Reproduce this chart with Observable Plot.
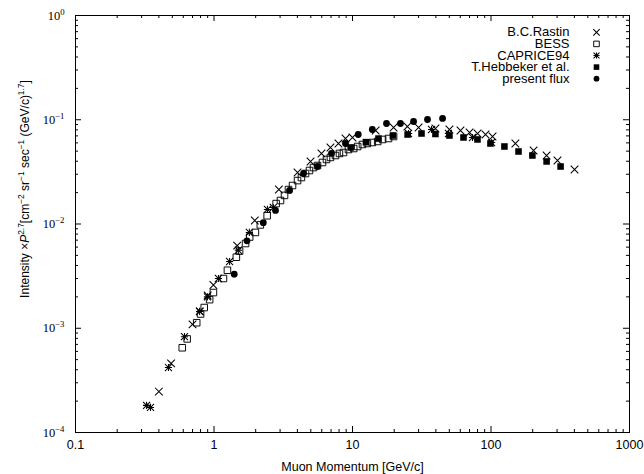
<!DOCTYPE html>
<html><head><meta charset="utf-8">
<script src="https://cdn.jsdelivr.net/npm/d3@7"></script>
<script src="https://cdn.jsdelivr.net/npm/@observablehq/plot@0.6"></script>
<style>body{margin:0;background:#fff;} svg{display:block}</style>
</head><body><div id="chart"></div>
<script>
// ---- data ----
const rastinP = [0.40,0.49,0.70,0.79,0.90,0.99,1.47,1.97,2.94,4.01,4.98,5.97,6.93,7.92,8.90,10.0,14.7,19.8,24.9,30.0,39.7,50.1,60.2,70.0,80.0,91.3,102.6,150,203,252,302,401];
const rastinI = [2.47e-4,4.6e-4,1.09e-3,1.45e-3,2.06e-3,2.6e-3,6.2e-3,1.08e-2,2.14e-2,3.12e-2,3.98e-2,4.75e-2,5.42e-2,5.92e-2,6.61e-2,6.76e-2,7.88e-2,8.43e-2,8.61e-2,8.43e-2,8.24e-2,8.06e-2,7.88e-2,7.54e-2,7.38e-2,7.22e-2,6.91e-2,5.92e-2,5.07e-2,4.54e-2,4.07e-2,3.33e-2];

const bessP = [0.59,0.64,0.75,0.80,0.85,0.93,0.99,1.17,1.25,1.45,1.53,1.69,1.81,1.99,2.16,2.42,2.81,3.02,3.23,3.45,3.69,4.01,4.28,4.58,4.89,5.23,5.59,6.07,6.49,6.93,7.54,8.05,8.61,9.35,10.2,10.9,11.8,12.8,13.9,15.2,16.5,18.2,19.8];
const bessI = [6.5e-4,7.9e-4,1.13e-3,1.37e-3,1.58e-3,1.88e-3,2.2e-3,3.0e-3,3.6e-3,4.8e-3,5.5e-3,6.5e-3,7.5e-3,8.3e-3,9.8e-3,1.2e-2,1.57e-2,1.68e-2,1.88e-2,2.14e-2,2.34e-2,2.61e-2,2.79e-2,3.05e-2,3.26e-2,3.48e-2,3.64e-2,3.89e-2,4.16e-2,4.35e-2,4.54e-2,4.75e-2,4.85e-2,5.18e-2,5.30e-2,5.54e-2,5.79e-2,5.92e-2,6.05e-2,6.19e-2,6.47e-2,6.61e-2,6.91e-2];

const capriceP = [0.326,0.348,0.469,0.612,0.787,0.897,1.076,1.296,1.50,1.80,2.43,2.68,25.4,37.2,49.3,73.5,101];
const capriceI = [1.82e-4,1.74e-4,4.2e-4,8.3e-4,1.45e-3,2.0e-3,3.0e-3,4.37e-3,5.6e-3,8.3e-3,1.38e-2,1.44e-2,7.38e-2,8.06e-2,7.38e-2,6.76e-2,6.05e-2];

const hebbekerP = [9.7,12.5,15.4,19.6,25.0,31.5,39.7,50.1,63.3,79.9,99.1,125,158,199,252,318];
const hebbekerI = [5.42e-2,6.1e-2,6.6e-2,7.06e-2,7.22e-2,7.38e-2,7.3e-2,7.06e-2,6.76e-2,6.47e-2,5.92e-2,5.54e-2,4.96e-2,4.54e-2,3.98e-2,3.56e-2];

const presentP = [1.40,1.73,2.27,2.78,3.51,4.43,5.59,7.05,8.90,11.0,13.9,17.6,22.2,27.6,34.8,44.7];
const presentI = [3.3e-3,6.9e-3,1.03e-2,1.35e-2,2.10e-2,3.05e-2,3.56e-2,4.75e-2,5.92e-2,7.22e-2,8.06e-2,9.21e-2,9.21e-2,9.62e-2,1.005e-1,1.03e-1];

const xMajor = [0.1, 1, 10, 100, 1000];
const xTickLabels = ["0.1", "1", "10", "100", "1000"];
const yMajor = [1e-4, 1e-3, 1e-2, 1e-1, 1];
const yExponents = ["−4", "−3", "−2", "−1", "0"];
const legendNames = ["B.C.Rastin", "BESS", "CAPRICE94", "T.Hebbeker et al.", "present flux"];
const xTitle = "Muon Momentum [GeV/c]";
const yTitle = "Intensity ×*P*^{2.7}[cm^{−2} sr^{−1} sec^{−1} (GeV/c)^{1.7}]";

// ---- build ----
const rows = (P, I) => P.map((p, i) => ({p, v: I[i]}));
const rastin = rows(rastinP, rastinI);
const bess = rows(bessP, bessI);
const caprice = rows(capriceP, capriceI);
const hebbeker = rows(hebbekerP, hebbekerI);
const present = rows(presentP, presentI);

const minorOf = (majors) => majors.slice(0, -1).flatMap(d => [2,3,4,5,6,7,8,9].map(k => d * k));
const xMinor = minorOf(xMajor);
const yMinor = minorOf(yMajor);

const W = 644, H = 474, mL = 75, mR = 15, mT = 15, mB = 42;
const pw = W - mL - mR, ph = H - mT - mB;
const big = 6, small = 3;

const sym = {
  rastin: {symbol: "times", r: 3.55, stroke: "black", strokeWidth: 1.05},
  bess: {symbol: "square", r: 3.7, fill: "none", stroke: "black", strokeWidth: 0.95},
  capA: {symbol: "times", r: 3.3, stroke: "black", strokeWidth: 1.05},
  capB: {symbol: "plus", r: 2.45, stroke: "black", strokeWidth: 1.05},
  hebb: {symbol: "square", r: 3.7, fill: "black"},
  pres: {symbol: "circle", r: 3.4, fill: "black"}
};
const shrink = s => ({...s, r: s.r * 0.85});
const legendSyms = [[sym.rastin], [sym.bess], [sym.capA, sym.capB], [sym.hebb], [sym.pres]].map(a => a.map(shrink));

const legendMarks = legendNames.flatMap((name, i) => [
  Plot.text([name], {frameAnchor: "top-right", dx: -60, dy: 16.8 + 11.6 * i, text: d => d,
    textAnchor: "end", lineAnchor: "middle", fontSize: 13}),
  ...legendSyms[i].map(s => Plot.dot([name], {x: null, y: null, frameAnchor: "top-right", dx: -33, dy: 16.8 + 11.6 * i, ...s}))
]);

const plot = Plot.plot({
  width: W, height: H,
  marginLeft: mL, marginRight: mR, marginTop: mT, marginBottom: mB,
  x: {type: "log", domain: [0.1, 1000], axis: null},
  y: {type: "log", domain: [1e-4, 1], axis: null},
  style: {fontFamily: "'Liberation Sans', Arial, sans-serif", fontSize: "12px", background: "white", color: "black", overflow: "visible"},
  marks: [
    // ticks (inward, mirrored)
    Plot.ruleX(xMajor, {x: d => d, insetTop: ph - big, stroke: "black"}),
    Plot.ruleX(xMajor, {x: d => d, insetBottom: ph - big, stroke: "black"}),
    Plot.ruleX(xMinor, {x: d => d, insetTop: ph - small, stroke: "black"}),
    Plot.ruleX(xMinor, {x: d => d, insetBottom: ph - small, stroke: "black"}),
    Plot.ruleY(yMajor, {y: d => d, insetRight: pw - big, stroke: "black"}),
    Plot.ruleY(yMajor, {y: d => d, insetLeft: pw - big, stroke: "black"}),
    Plot.ruleY(yMinor, {y: d => d, insetRight: pw - small, stroke: "black"}),
    Plot.ruleY(yMinor, {y: d => d, insetLeft: pw - small, stroke: "black"}),
    Plot.frame({stroke: "black", strokeWidth: 1}),
    // tick labels
    Plot.text(xMajor, {x: d => d, frameAnchor: "bottom", dy: 12, text: (d, i) => xTickLabels[i], lineAnchor: "middle", fontSize: 12.5}),
    Plot.text(yMajor, {y: d => d, frameAnchor: "left", dx: -11, text: (d, i) => "10^{" + yExponents[i] + "}",
      textAnchor: "end", lineAnchor: "middle", fontSize: 12.5, fontFamily: "'Liberation Serif', 'Times New Roman', serif"}),
    // axis titles
    Plot.text([xTitle], {frameAnchor: "bottom", dy: 34, text: d => d, textAnchor: "middle", lineAnchor: "middle", fontSize: 12.5}),
    Plot.text([yTitle], {frameAnchor: "left", dx: -50, dy: -35, rotate: -90, text: d => d, textAnchor: "middle", lineAnchor: "middle", fontSize: 12}),
    // data
    Plot.dot(bess, {x: "p", y: "v", ...sym.bess}),
    Plot.dot(rastin, {x: "p", y: "v", ...sym.rastin}),
    Plot.dot(caprice, {x: "p", y: "v", ...sym.capA}),
    Plot.dot(caprice, {x: "p", y: "v", ...sym.capB}),
    Plot.dot(hebbeker, {x: "p", y: "v", ...sym.hebb}),
    Plot.dot(present, {x: "p", y: "v", ...sym.pres}),
    ...legendMarks
  ]
});

// rich text: ^{..} superscript, *..* italic
d3.select(plot).selectAll("text").each(function () {
  const t = this.textContent;
  if (!/[\^*]/.test(t)) return;
  const sel = d3.select(this);
  sel.text("");
  const re = /\^\{([^}]*)\}|\*([^*]*)\*|([^\^*]+)/g;
  let m, raised = false;
  while ((m = re.exec(t))) {
    if (m[1] !== undefined) {
      const ts = sel.append("tspan").attr("font-size", "70%").text(m[1]);
      if (!raised) ts.attr("dy", "-5");
      raised = true;
    } else {
      const ts = sel.append("tspan").text(m[2] !== undefined ? m[2] : m[3]);
      if (m[2] !== undefined) ts.attr("font-style", "italic");
      if (raised) ts.attr("dy", "5");
      raised = false;
    }
  }
});

document.getElementById("chart").append(plot);
</script>
</body></html>
